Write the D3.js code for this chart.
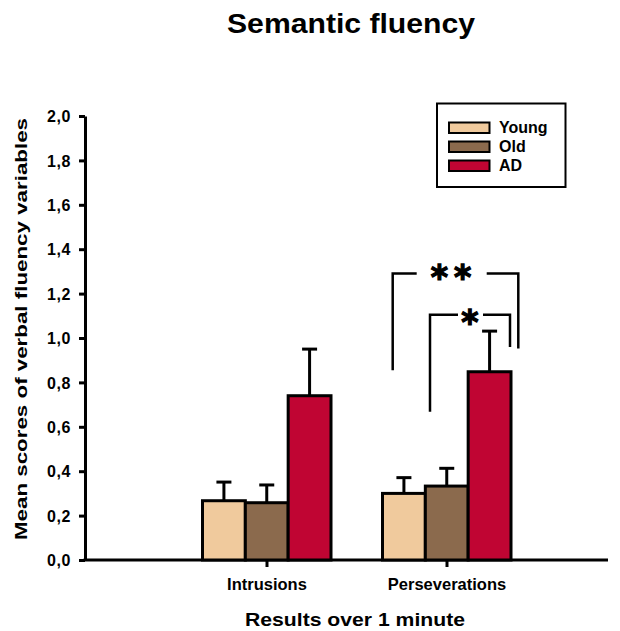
<!DOCTYPE html>
<html>
<head>
<meta charset="utf-8">
<script src="https://cdn.jsdelivr.net/npm/d3@7"></script>
<style>
  body { margin: 0; background: #fff; }
  text { font-family: "Liberation Sans", Arial, sans-serif; font-weight: bold; fill: #000; }
</style>
</head>
<body>
<div id="chart"></div>
<script>
// data
var categories = ["Intrusions", "Perseverations"];
var groups = ["Young", "Old", "AD"];
var colors = ["#F0CA9D", "#8B6A4D", "#C00533"];
var meanValues = [
  [0.267, 0.258, 0.74],
  [0.30, 0.333, 0.848]
];
var errValues = [
  [0.084, 0.08, 0.21],
  [0.071, 0.08, 0.183]
];
var yTicks = [0, 0.2, 0.4, 0.6, 0.8, 1.0, 1.2, 1.4, 1.6, 1.8, 2.0];
// significance brackets (Perseverations): level, left/right leg bottoms
var sigLabels = ["**", "*"];
var sigLevel = [1.29, 1.105];
var sigLeftBottom = [0.855, 0.668];
var sigRightBottom = [0.953, 0.96];

var margin = {top: 116, right: 12, bottom: 71, left: 85},
    width = 620 - margin.left - margin.right,
    height = 631 - margin.top - margin.bottom;

var svg = d3.select("#chart")
  .append("svg")
    .attr("width", 620)
    .attr("height", 631)
  .append("g")
    .attr("transform", "translate(" + margin.left + "," + margin.top + ")");

var y = d3.scaleLinear()
  .domain([0, 2.0])
  .range([height, 0]);

var x0 = d3.scaleBand()
  .domain(categories)
  .range([92, 452]);

var x1 = d3.scaleBand()
  .domain(groups)
  .range([25.5, 154]);

// y axis
var yAxis = svg.append("g")
  .call(d3.axisLeft(y)
    .tickValues(yTicks)
    .tickSize(6)
    .tickSizeOuter(0)
    .tickPadding(8)
    .tickFormat(function(d) { return d3.format(".1f")(d).replace(".", ","); }));
yAxis.selectAll("path, line").attr("stroke", "#000").attr("stroke-width", 3);
yAxis.selectAll("text")
  .style("font-size", "16px")
  .style("font-family", "'Liberation Sans', Arial, sans-serif")
  .style("font-weight", "bold")
  .style("letter-spacing", "0.6px")
  .attr("dy", "0.36em");

// x axis
var xAxis = svg.append("g")
  .attr("transform", "translate(0," + height + ")")
  .call(d3.axisBottom(x0).tickSize(7).tickSizeOuter(0).tickFormat(""));
xAxis.select(".domain").remove();
xAxis.selectAll("line").attr("stroke", "#000").attr("stroke-width", 3);
svg.append("line")
  .attr("x1", -1.5).attr("x2", width)
  .attr("y1", height).attr("y2", height)
  .attr("stroke", "#000").attr("stroke-width", 3);

svg.selectAll("xlabel")
  .data(categories)
  .enter()
  .append("text")
    .attr("x", function(d) { return x0(d) + x0.bandwidth() / 2; })
    .attr("y", height + 30)
    .attr("text-anchor", "middle")
    .style("font-size", "16.5px")
    .text(function(d) { return d; });

// bars + error bars
var cat = svg.selectAll("cat")
  .data(categories)
  .enter()
  .append("g")
    .attr("transform", function(d) { return "translate(" + x0(d) + ",0)"; });

cat.each(function(c, ci) {
  var g = d3.select(this);
  groups.forEach(function(gr, gi) {
    var m = meanValues[ci][gi], e = errValues[ci][gi];
    var cx = x1(gr) + x1.bandwidth() / 2;
    g.append("line")
      .attr("x1", cx).attr("x2", cx)
      .attr("y1", y(m)).attr("y2", y(m + e))
      .attr("stroke", "#000").attr("stroke-width", 3);
    g.append("line")
      .attr("x1", cx - 7.5).attr("x2", cx + 7.5)
      .attr("y1", y(m + e)).attr("y2", y(m + e))
      .attr("stroke", "#000").attr("stroke-width", 3);
    g.append("rect")
      .attr("x", x1(gr))
      .attr("y", y(m))
      .attr("width", x1.bandwidth())
      .attr("height", height - y(m))
      .attr("fill", colors[gi])
      .attr("stroke", "#000")
      .attr("stroke-width", 3);
  });
});

// significance brackets on Perseverations
var px = x0("Perseverations");
var bx = [
  {l: px + 35.7, r: px + 161.3, gapL: px + 59.7, gapR: px + 129.7, tx: px + 97, dy: 15},
  {l: px + 73, r: px + 153, gapL: px + 101, gapR: px + 126, tx: px + 113, dy: 19}
];
bx.forEach(function(b, i) {
  var ly = y(sigLevel[i]);
  svg.append("path")
    .attr("d", "M" + b.l + "," + y(sigLeftBottom[i]) + "V" + ly + "H" + b.gapL)
    .attr("fill", "none").attr("stroke", "#000").attr("stroke-width", 2.5);
  svg.append("path")
    .attr("d", "M" + b.gapR + "," + ly + "H" + b.r + "V" + y(sigRightBottom[i]))
    .attr("fill", "none").attr("stroke", "#000").attr("stroke-width", 2.5);
  svg.append("text")
    .attr("x", b.tx)
    .attr("y", ly + b.dy)
    .attr("text-anchor", "middle")
    .style("font-family", "'DejaVu Sans', sans-serif")
    .style("font-size", "33px")
    .style("stroke", "#000")
    .style("stroke-width", "1.3px")
    .style("letter-spacing", i === 0 ? "6px" : "0px")
    .text(sigLabels[i]);
});

// legend
var legend = svg.append("g")
  .attr("transform", "translate(" + (437 - margin.left) + "," + (103.5 - margin.top) + ")");
legend.append("rect")
  .attr("width", 128.5).attr("height", 83.5)
  .attr("fill", "#fff").attr("stroke", "#000").attr("stroke-width", 2);
groups.forEach(function(gr, i) {
  legend.append("rect")
    .attr("x", 12).attr("y", 19 + i * 19)
    .attr("width", 40.5).attr("height", 10.5)
    .attr("fill", colors[i]).attr("stroke", "#000").attr("stroke-width", 2);
  legend.append("text")
    .attr("x", 62).attr("y", 29.5 + i * 19)
    .style("font-size", "16px")
    .text(gr);
});

// titles
svg.append("text")
  .attr("x", 351 - margin.left)
  .attr("y", 33 - margin.top)
  .attr("text-anchor", "middle")
  .attr("textLength", 248)
  .attr("lengthAdjust", "spacingAndGlyphs")
  .style("font-size", "27px")
  .text("Semantic fluency");

svg.append("text")
  .attr("x", 355 - margin.left)
  .attr("y", height + 66)
  .attr("text-anchor", "middle")
  .attr("textLength", 220)
  .attr("lengthAdjust", "spacingAndGlyphs")
  .style("font-size", "19px")
  .text("Results over 1 minute");

svg.append("text")
  .attr("transform", "translate(" + (27 - margin.left) + "," + (329 - margin.top) + ")rotate(-90)")
  .attr("text-anchor", "middle")
  .attr("textLength", 422)
  .attr("lengthAdjust", "spacingAndGlyphs")
  .style("font-size", "17px")
  .text("Mean scores of verbal fluency variables");
</script>
</body>
</html>
